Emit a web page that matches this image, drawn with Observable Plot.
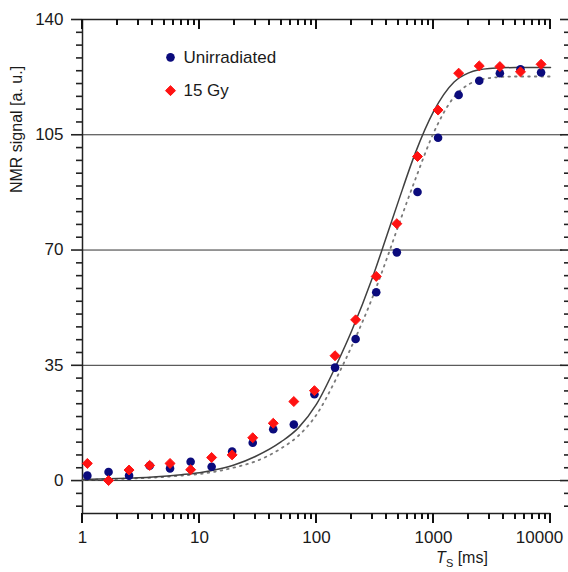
<!DOCTYPE html>
<html><head><meta charset="utf-8">
<script src="https://cdn.jsdelivr.net/npm/d3@7"></script>
<script src="https://cdn.jsdelivr.net/npm/@observablehq/plot@0.6"></script>
<style>
body{margin:0;background:#fff;}
#chart{width:568px;height:572px;}
</style></head><body><div id="chart"></div>
<script>
// ---- data ----
const times = [1.1, 1.67, 2.5, 3.75, 5.6, 8.4, 12.7, 19, 28.5, 42.7, 64, 96, 144, 216, 324, 486, 730, 1094, 1641, 2461, 3692, 5538, 8307];
const unirradiated = [1.5, 2.6, 1.5, 4.5, 3.7, 5.7, 4.2, 8.8, 11.5, 15.6, 17.0, 26.2, 34.3, 43.0, 57.2, 69.3, 87.6, 104.1, 117.1, 121.4, 123.7, 124.9, 123.9];
const gy15 = [5.2, 0.0, 3.2, 4.6, 5.2, 3.3, 7.0, 7.8, 13.0, 17.4, 24.0, 27.3, 37.9, 48.8, 62.0, 78.0, 98.4, 112.5, 123.7, 125.9, 125.7, 124.1, 126.4];
const fitTimes = [1, 2, 4, 7, 10, 15, 20, 30, 50, 70, 100, 150, 200, 300, 400, 500, 700, 1000, 1500, 2000, 3000, 5000, 10000];
const fit15 = [0.3, 0.6, 1.1, 1.8, 2.4, 3.6, 4.8, 7.3, 11.8, 16.0, 23.2, 35.6, 45.5, 61.5, 74.5, 84.7, 99.5, 112.0, 121.0, 123.8, 125.1, 125.4, 125.4];
const fitUn = [0.2, 0.5, 0.9, 1.5, 2.0, 3.0, 4.0, 5.8, 9.8, 13.6, 20.0, 31.5, 40.8, 55.5, 67.5, 77.3, 91.5, 105.5, 116.5, 120.3, 122.2, 122.7, 122.7];
const seriesNames = ["Unirradiated", "15 Gy"];
const yTicks = [0, 35, 70, 105, 140];
const xTicks = [1, 10, 100, 1000, 10000];
const yLabel = "NMR signal [a. u.]";

// ---- derived tables ----
const unData = times.map((t, i) => ({t, v: unirradiated[i]}));
const gyData = times.map((t, i) => ({t, v: gy15[i]}));
const fit15Data = fitTimes.map((t, i) => ({t, v: fit15[i]}));
const fitUnData = fitTimes.map((t, i) => ({t, v: fitUn[i]}));
const minorX = [];
for (const dec of [1, 10, 100, 1000]) for (let k = 2; k <= 9; k++) minorX.push(dec * k);
const minorY = d3.range(-2, 37).filter(k => k % 9 !== 0).map(k => k * 35 / 9);
const legend = [
  {name: seriesNames[0], x: 5.65, y: 128.5},
  {name: seriesNames[1], x: 5.65, y: 118.4}
];

const BLUE = "#0b0b7c", RED = "#ff1212", INK = "#222";
const FONT = "'Liberation Sans', Arial, Helvetica, sans-serif";
const TW = 1.6;

const plot = Plot.plot({
  width: 568, height: 572,
  marginLeft: 82, marginRight: 18, marginTop: 19, marginBottom: 59,
  x: {type: "log", domain: [1, 10000], label: null},
  y: {domain: [-10, 140], label: null},
  style: {fontFamily: FONT, fontSize: "17px", color: "#1a1a1a", background: "white"},
  marks: [
    Plot.ruleY(yTicks.slice(0, 4), {x1: 1, x2: 12700, stroke: "#333", strokeWidth: 1}),
    Plot.ruleX([1], {stroke: INK, strokeWidth: 1.5}),
    Plot.ruleY([-10, 140], {stroke: INK, strokeWidth: 1.5}),
    // left axis
    Plot.axisY(minorY, {anchor: "left", tickSize: 6, fill: "none", stroke: INK, strokeWidth: TW}),
    Plot.axisY(yTicks, {anchor: "left", tickSize: 11, tickPadding: 8, stroke: INK, strokeWidth: TW}),
    // right ticks
    Plot.axisY(minorY, {anchor: "right", tickSize: 5, dx: 13, fill: "none", stroke: INK, strokeWidth: TW}),
    Plot.axisY(yTicks, {anchor: "right", tickSize: 9, dx: 9, fill: "none", stroke: INK, strokeWidth: TW}),
    // bottom labels
    Plot.axisX(xTicks.slice(0, 4), {anchor: "bottom", tickSize: 0, tickPadding: 17, tickFormat: d => String(d)}),
    Plot.axisX(xTicks.slice(4), {anchor: "bottom", tickSize: 0, tickPadding: 17, dx: -11, tickFormat: d => String(d)}),
    // fits
    Plot.line(fitUnData, {x: "t", y: "v", stroke: "#7a7a7a", strokeWidth: 1.8, strokeDasharray: "1.6,5", strokeLinecap: "round", curve: "monotone-x"}),
    Plot.line(fit15Data, {x: "t", y: "v", stroke: "#404040", strokeWidth: 1.5, curve: "monotone-x"}),
    // data
    Plot.dot(unData, {x: "t", y: "v", r: 4.3, fill: BLUE}),
    Plot.dot(gyData, {x: "t", y: "v", symbol: "diamond2", r: 4.5, fill: RED, stroke: RED, strokeWidth: 1}),
    // legend
    Plot.dot(legend.slice(0, 1), {x: "x", y: "y", r: 4.3, fill: BLUE}),
    Plot.dot(legend.slice(1), {x: "x", y: "y", symbol: "diamond2", r: 4.5, fill: RED, stroke: RED, strokeWidth: 1}),
    Plot.text(legend, {x: "x", y: "y", text: "name", dx: 13, textAnchor: "start", fontSize: 17, fill: "#1a1a1a"}),
    // y label
    Plot.text([yLabel], {text: d => d, frameAnchor: "top-left", rotate: -90, textAnchor: "middle", lineAnchor: "middle", dx: -66, dy: 110, fontSize: 16, fill: "#1a1a1a"})
  ]
});

const svg = d3.select(plot);
const sx = plot.scale("x"), sy = plot.scale("y");
const yTop = sy.apply(140), yBot = sy.apply(-10);
const tg = svg.append("g").attr("stroke", "#111").attr("stroke-width", 2);
const tickSets = [[minorX, 6], [xTicks, 10]];
for (const [vals, len] of tickSets) {
  for (const v of vals) {
    const px = Math.round(sx.apply(v));
    tg.append("line").attr("x1", px).attr("x2", px).attr("y1", yBot).attr("y2", yBot + len); // bottom, outward
    tg.append("line").attr("x1", px).attr("x2", px).attr("y1", yTop).attr("y2", yTop + len); // top, inward
  }
}
const xl = svg.append("text").attr("x", 462).attr("y", 563)
  .attr("font-family", FONT).attr("fill", "#1a1a1a").attr("font-size", 16);
xl.append("tspan").attr("font-style", "italic").text("T");
xl.append("tspan").attr("font-size", 11).attr("dy", 3.7).text("S");
xl.append("tspan").attr("dy", -3.7).text(" [ms]");

document.getElementById("chart").appendChild(plot);
</script></body></html>
